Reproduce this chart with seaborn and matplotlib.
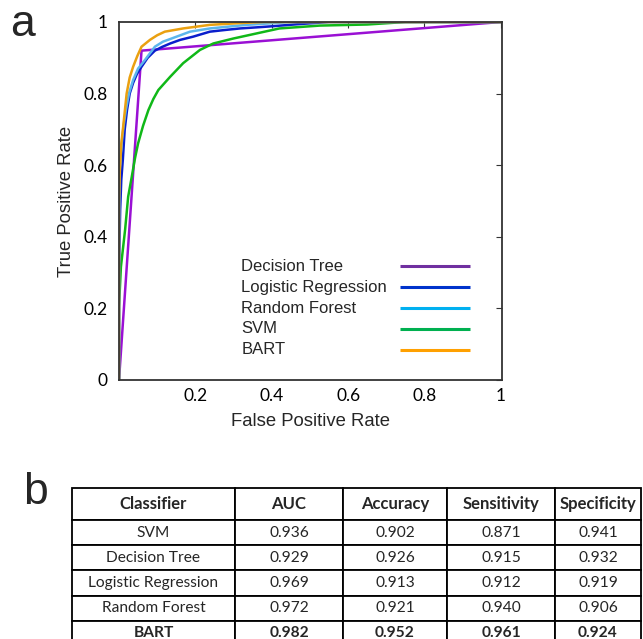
import numpy as np
import pandas as pd
import matplotlib
matplotlib.use("Agg")
import matplotlib.pyplot as plt
import seaborn as sns

# ROC curves (false positive rate, true positive rate)
tree_fpr = [0.0, 0.059, 1.0]
tree_tpr = [0.0, 0.92, 1.0]

logit_fpr = [0.0, 0.0, 0.003, 0.006, 0.010, 0.015, 0.021, 0.028, 0.037, 0.047, 0.059,
             0.075, 0.094, 0.112, 0.134, 0.16, 0.194, 0.238, 0.28, 0.317, 0.36, 0.40,
             0.47, 0.55, 1.0]
logit_tpr = [0.0, 0.30, 0.475, 0.56, 0.615, 0.70, 0.754, 0.80, 0.83, 0.855, 0.875,
             0.90, 0.92, 0.93, 0.94, 0.95, 0.959, 0.973, 0.978, 0.982, 0.985, 0.988,
             0.994, 1.0, 1.0]

rf_fpr = [0.0, 0.0, 0.001, 0.006, 0.012, 0.018, 0.026, 0.037, 0.05, 0.068, 0.094,
          0.115, 0.138, 0.186, 0.238, 0.334, 0.45, 1.0]
rf_tpr = [0.0, 0.35, 0.568, 0.65, 0.71, 0.754, 0.80, 0.838, 0.87, 0.894, 0.931,
          0.945, 0.954, 0.973, 0.982, 0.992, 1.0, 1.0]

svm_fpr = [0.0, 0.0, 0.005, 0.016, 0.024, 0.033, 0.042, 0.05, 0.063, 0.077, 0.09,
           0.103, 0.134, 0.168, 0.212, 0.247, 0.30, 0.36, 0.42, 0.526, 0.65, 0.75, 1.0]
svm_tpr = [0.0, 0.205, 0.316, 0.42, 0.512, 0.565, 0.62, 0.661, 0.71, 0.754, 0.785,
           0.81, 0.847, 0.885, 0.922, 0.94, 0.954, 0.968, 0.982, 0.99, 0.993, 1.0, 1.0]

bart_fpr = [0.0, 0.0, 0.002, 0.006, 0.011, 0.02, 0.028, 0.037, 0.048, 0.059, 0.081,
            0.10, 0.12, 0.168, 0.238, 0.317, 0.38, 1.0]
bart_tpr = [0.0, 0.50, 0.58, 0.66, 0.708, 0.80, 0.845, 0.875, 0.905, 0.931, 0.95,
            0.963, 0.973, 0.982, 0.992, 0.997, 1.0, 1.0]

legend_names = ["Decision Tree", "Logistic Regression", "Random Forest", "SVM", "BART"]
line_colors = ["#9a10d4", "#0a1ecc", "#5cb6ec", "#10b818", "#eaa010"]
legend_colors = ["#7030a0", "#0033cc", "#00b0f0", "#00b050", "#ffa000"]

x_ticks = [0.2, 0.4, 0.6, 0.8, 1.0]
x_tick_labels = ["0.2", "0.4", "0.6", "0.8", "1"]
y_ticks = [0.0, 0.2, 0.4, 0.6, 0.8, 1.0]
y_tick_labels = ["0", "0.2", "0.4", "0.6", "0.8", "1"]

# table (panel b)
table_header = ["Classifier", "AUC", "Accuracy", "Sensitivity", "Specificity"]
table_classifiers = ["SVM", "Decision Tree", "Logistic Regression", "Random Forest", "BART"]
auc = ["0.936", "0.929", "0.969", "0.972", "0.982"]
accuracy = ["0.902", "0.926", "0.913", "0.921", "0.952"]
sensitivity = ["0.871", "0.915", "0.912", "0.940", "0.961"]
specificity = ["0.941", "0.932", "0.919", "0.906", "0.924"]

sns.set_style("white")
plt.rcParams["font.family"] = ["Liberation Sans", "DejaVu Sans"]

W, H = 643, 639
fig = plt.figure(figsize=(W / 100, H / 100), dpi=100)

curves = {
    "Decision Tree": (tree_fpr, tree_tpr),
    "SVM": (svm_fpr, svm_tpr),
    "Logistic Regression": (logit_fpr, logit_tpr),
    "Random Forest": (rf_fpr, rf_tpr),
    "BART": (bart_fpr, bart_tpr),
}
frames = []
for name, (fx, fy) in curves.items():
    frames.append(pd.DataFrame({"fpr": fx, "tpr": fy, "model": name,
                                "order": np.arange(len(fx))}))
df = pd.concat(frames, ignore_index=True)
palette = dict(zip(legend_names, line_colors))

ax = fig.add_axes([119 / W, 1 - 380 / H, 383 / W, 358 / H])
sns.lineplot(data=df, x="fpr", y="tpr", hue="model", units="model",
             hue_order=list(curves.keys()), palette=palette, estimator=None,
             sort=False, linewidth=1.8, legend=False, ax=ax)

ax.set_xlim(0, 1.003)
ax.set_ylim(0, 1.0)
ax.set_xticks(x_ticks)
ax.set_xticklabels(x_tick_labels)
ax.set_yticks(y_ticks)
ax.set_yticklabels(y_tick_labels)
ax.tick_params(axis="both", direction="in", length=4, width=0.8, colors="#333333",
               labelcolor="black", labelsize=12.5, top=True, right=True)
ax.tick_params(axis="x", pad=6)
ax.tick_params(axis="y", pad=8)
for lab in ax.get_xticklabels() + ax.get_yticklabels():
    lab.set_fontfamily(["Lato", "DejaVu Sans"])
ax.set_xlabel("False Positive Rate", fontsize=13.3, labelpad=6)
ax.set_ylabel("True Positive Rate", fontsize=13.3, labelpad=6)
for sp in ax.spines.values():
    sp.set_color("#333333")
    sp.set_linewidth(1.3)

# hand-made legend: labels left aligned, line samples to the right
for i, (name, col) in enumerate(zip(legend_names, legend_colors)):
    y = 0.318 - i * 0.0585
    ax.text(0.319, y, name, transform=ax.transAxes, fontsize=12, va="center", ha="left")
    ax.plot([0.734, 0.916], [y, y], transform=ax.transAxes, color=col, lw=2.2,
            solid_capstyle="butt")

fig.text(22 / W, 1 - 25 / H, "a", fontsize=32, ha="center", va="center")
fig.text(35 / W, 1 - 492 / H, "b", fontsize=32, ha="center", va="center")

# table
tax = fig.add_axes([72 / W, 1 - 646 / H, (641 - 72) / W, 158 / H])
tax.axis("off")
cells = [[c, a, b, s, p] for c, a, b, s, p in
         zip(table_classifiers, auc, accuracy, sensitivity, specificity)]
col_w = [163, 108, 104, 108, 86]
tbl = tax.table(cellText=cells, colLabels=table_header, cellLoc="center",
                colWidths=[w / sum(col_w) for w in col_w], bbox=[0, 0, 1, 1])
tbl.auto_set_font_size(False)
n_rows = len(cells) + 1
for (r, c), cell in tbl.get_celld().items():
    cell.set_height(32 if r == 0 else 25.2)
    cell.set_linewidth(1.3)
    cell.set_edgecolor("black")
    txt = cell.get_text()
    txt.set_fontfamily(["Lato", "DejaVu Sans"])
    txt.set_fontsize(11.2)
    if r == 0 or r == n_rows - 1:
        txt.set_fontweight("bold")
    if r == 0:
        txt.set_fontsize(12)

fig.savefig("out.png", dpi=100)
